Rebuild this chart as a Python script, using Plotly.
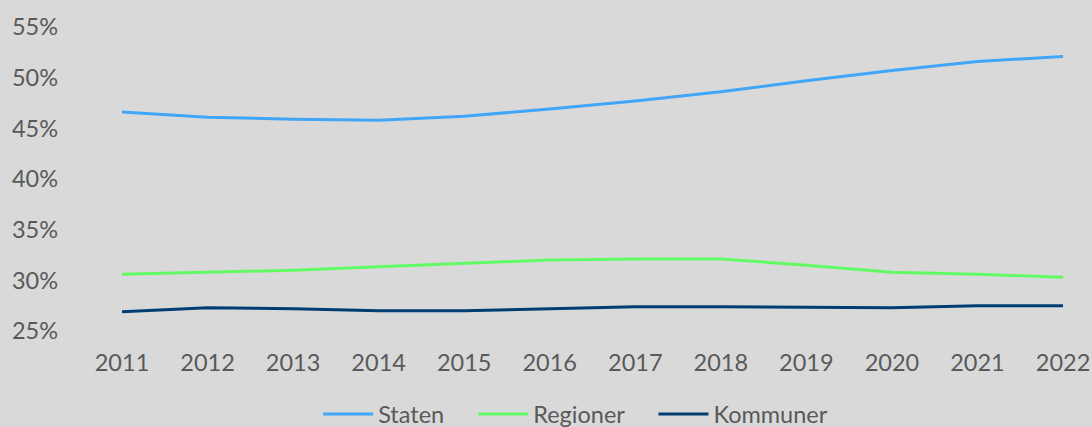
import plotly.graph_objects as go

years = [2011, 2012, 2013, 2014, 2015, 2016, 2017, 2018, 2019, 2020, 2021, 2022]
staten = [0.466, 0.461, 0.459, 0.458, 0.462, 0.469, 0.477, 0.486, 0.497, 0.507, 0.516, 0.521]
regioner = [0.306, 0.308, 0.310, 0.3135, 0.317, 0.320, 0.321, 0.321, 0.315, 0.308, 0.306, 0.303]
kommuner = [0.269, 0.273, 0.272, 0.270, 0.270, 0.272, 0.274, 0.274, 0.2735, 0.273, 0.275, 0.275]

series = [
    ("Staten", staten, "#41A6F8"),
    ("Regioner", regioner, "#62FA62"),
    ("Kommuner", kommuner, "#003D73"),
]

pad = "\u00a0" * 4
fig = go.Figure()
for i, (name, vals, col) in enumerate(series):
    label = name + (pad if i < len(series) - 1 else "")
    fig.add_trace(go.Scatter(x=years, y=vals, name=label, mode="lines",
                             line=dict(color=col, width=3)))

font_col = "#595959"
fs = 23.5
fig.update_layout(
    width=1092, height=427,
    paper_bgcolor="#D9D9D9", plot_bgcolor="#D9D9D9",
    margin=dict(l=59, r=20, t=27, b=96, autoexpand=False),
    font=dict(family="Lato", size=fs, color=font_col),
    showlegend=True,
    legend=dict(orientation="h", x=0.51, xanchor="center",
                yref="container", y=0.03, yanchor="middle",
                font=dict(size=fs, color=font_col), bgcolor="rgba(0,0,0,0)",
                itemwidth=50, tracegroupgap=0),
    xaxis=dict(range=[2010.2635, 2022.105], tickmode="array", tickvals=years,
               ticktext=[str(y) for y in years], showgrid=False, zeroline=False,
               showline=False, ticks="outside", ticklen=11, tickcolor="rgba(0,0,0,0)",
               tickfont=dict(size=fs, color=font_col)),
    yaxis=dict(range=[0.25, 0.55], tickvals=[0.25, 0.30, 0.35, 0.40, 0.45, 0.50, 0.55],
               tickformat=".0%", showgrid=False, zeroline=False, showline=False,
               tickfont=dict(size=fs, color=font_col)),
)

fig.write_html("out.html")
